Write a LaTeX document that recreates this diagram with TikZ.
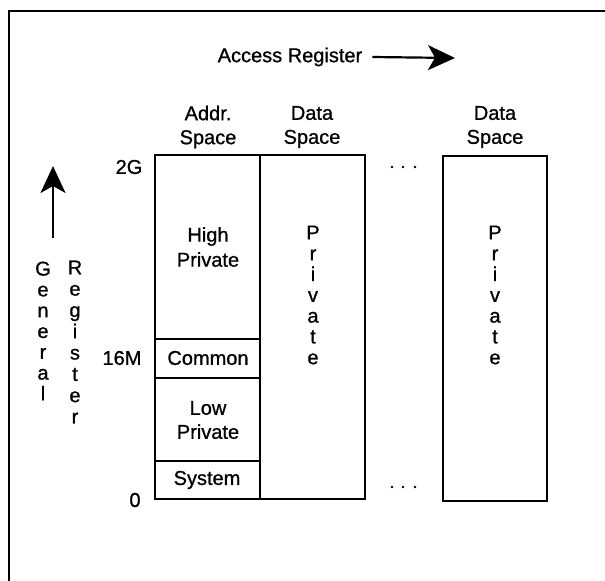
\documentclass[tikz,border=0pt]{standalone}
\usepackage{fontspec}
\setmainfont{Liberation Sans}[FakeBold=0.9]
\usetikzlibrary{arrows.meta}
\begin{document}
\begin{tikzpicture}[x=1bp,y=-1bp,
  lbl/.style={font=\fontsize{20bp}{24bp}\selectfont, inner sep=0pt, align=center},
  stackA/.style={font=\fontsize{20bp}{20.8bp}\selectfont, inner sep=0pt, align=center},
  stackB/.style={font=\fontsize{20bp}{21.3bp}\selectfont, inner sep=0pt, align=center},
  boxline/.style={draw, line width=1.5bp},
  bigarrow/.style={line width=2.2bp, -{Stealth[length=27bp,width=25bp,inset=7bp]}},
  dotmark/.style={fill, circle, inner sep=0pt, minimum size=2.8bp}]
\useasboundingbox (0,0) rectangle (605,581);
% frame
\draw[line width=1.4bp] (9,581) -- (9,11) -- (605,11);
% access register
\node[lbl] (ar) at (290,57) {Access Register};
\coordinate (arend) at (455,58);
\draw[bigarrow] ([xshift=10bp]ar.east) -- (arend);
% column headings
\node[lbl] (haddr) at (208,127) {Addr.\\Space};
\node[lbl] (hdata1) at (312,127) {Data\\Space};
\node[lbl] (hdata2) at (495,127) {Data\\Space};
% boxes
\draw[boxline] (155,155) rectangle (260,499);
\draw[boxline] (260,155) rectangle (365,499);
\draw[boxline] (443,156) rectangle (547,501);
\draw[line width=1.2bp] (155,339) -- (260,339);
\draw[line width=1.2bp] (155,378) -- (260,378);
\draw[line width=1.2bp] (155,461) -- (260,461);
% region labels
\node[lbl, font=\fontsize{20bp}{25bp}\selectfont] (hp) at (208,247) {High\\Private};
\node[lbl] (cm) at (208,358) {Common};
\node[lbl] (lp) at (208,420) {Low\\Private};
\node[lbl] (sy) at (207,480) {System};
% addresses
\node[lbl] (l2g) at (129,167) {2G};
\node[lbl] (l16m) at (122,358) {16M};
\node[lbl] (l0) at (135,500) {0};
% private stacks
\node[stackA] (p1) at (313,295) {P\\r\\i\\v\\a\\t\\e};
\node[stackA] (p2) at (495,295) {P\\r\\i\\v\\a\\t\\e};
% general register
\node[stackA] (gen) at (43,331) {G\\e\\n\\e\\r\\a\\l};
\node[stackB] (reg) at (75,342) {R\\e\\g\\i\\s\\t\\e\\r};
\coordinate (gstart) at (53,238);
\coordinate (gend) at (53,166);
\draw[bigarrow] (gstart) -- (gend);
% ellipses
\foreach \xx in {392,403,415} {
  \node[dotmark] at (\xx,167) {};
  \node[dotmark] at (\xx,487) {};
}
\end{tikzpicture}
\end{document}
